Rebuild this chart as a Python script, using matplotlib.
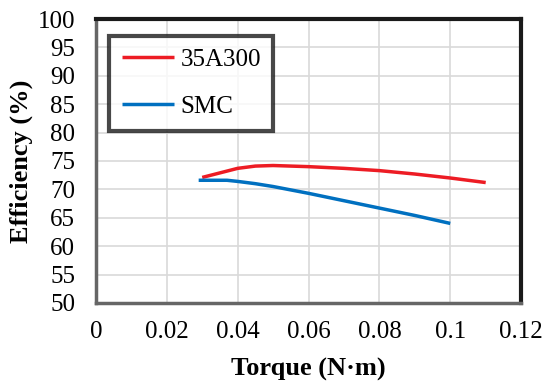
import numpy as np
import matplotlib.pyplot as plt

plt.rcParams['font.family'] = ['Liberation Serif', 'DejaVu Serif']

# torque (N*m) vs efficiency (%)
torque_35a300 = [0.030, 0.035, 0.040, 0.045, 0.050, 0.060, 0.070, 0.080, 0.090, 0.100, 0.110]
eff_35a300 = [72.1, 72.9, 73.7, 74.1, 74.2, 74.0, 73.7, 73.3, 72.7, 72.0, 71.2]

torque_smc = [0.029, 0.033, 0.037, 0.040, 0.045, 0.050, 0.060, 0.070, 0.080, 0.090, 0.100]
eff_smc = [71.6, 71.6, 71.6, 71.4, 71.0, 70.5, 69.3, 68.0, 66.7, 65.4, 64.0]

xticks = [0, 0.02, 0.04, 0.06, 0.08, 0.1, 0.12]
xticklabels = ['0', '0.02', '0.04', '0.06', '0.08', '0.1', '0.12']
yticks = list(range(50, 101, 5))

fig = plt.figure(figsize=(5.48, 3.81), dpi=100)
ax = fig.add_axes([0.175, 0.205, 0.776, 0.745])

ax.plot(torque_35a300, eff_35a300, color='#ED1C24', lw=2.5, label='35A300',
        solid_capstyle='butt')
ax.plot(torque_smc, eff_smc, color='#0070C0', lw=2.5, label='SMC',
        solid_capstyle='butt')

ax.set_xlim(0, 0.12)
ax.set_ylim(50, 100)
ax.set_xticks(xticks)
ax.set_xticklabels(xticklabels)
ax.set_yticks(yticks)
ax.grid(True, color='#D9D9D9', lw=1.2)
ax.set_axisbelow(True)
ax.tick_params(axis='y', length=0, labelsize=18, pad=15)
ax.tick_params(axis='x', length=0, labelsize=18, pad=13)

for side in ['top', 'right']:
    ax.spines[side].set_color('#1a1a1a')
    ax.spines[side].set_linewidth(3)
for side in ['left', 'bottom']:
    ax.spines[side].set_color('#666666')
    ax.spines[side].set_linewidth(2.5)

ax.set_xlabel('Torque (N·m)', fontsize=19, fontweight='bold')
ax.set_ylabel('Efficiency (%)', fontsize=19, fontweight='bold')
ax.xaxis.set_label_coords(0.5, -0.195)
ax.yaxis.set_label_coords(-0.148, 0.5)

leg = ax.legend(loc='upper left', bbox_to_anchor=(0.031, 0.942), fontsize=18,
                frameon=True, fancybox=False, borderaxespad=0,
                handlelength=2.1, labelspacing=1.0, borderpad=0.5,
                handletextpad=0.25)
leg.get_frame().set_edgecolor('#1a1a1a')
leg.get_frame().set_linewidth(3)

fig.savefig('out.png', dpi=100)
